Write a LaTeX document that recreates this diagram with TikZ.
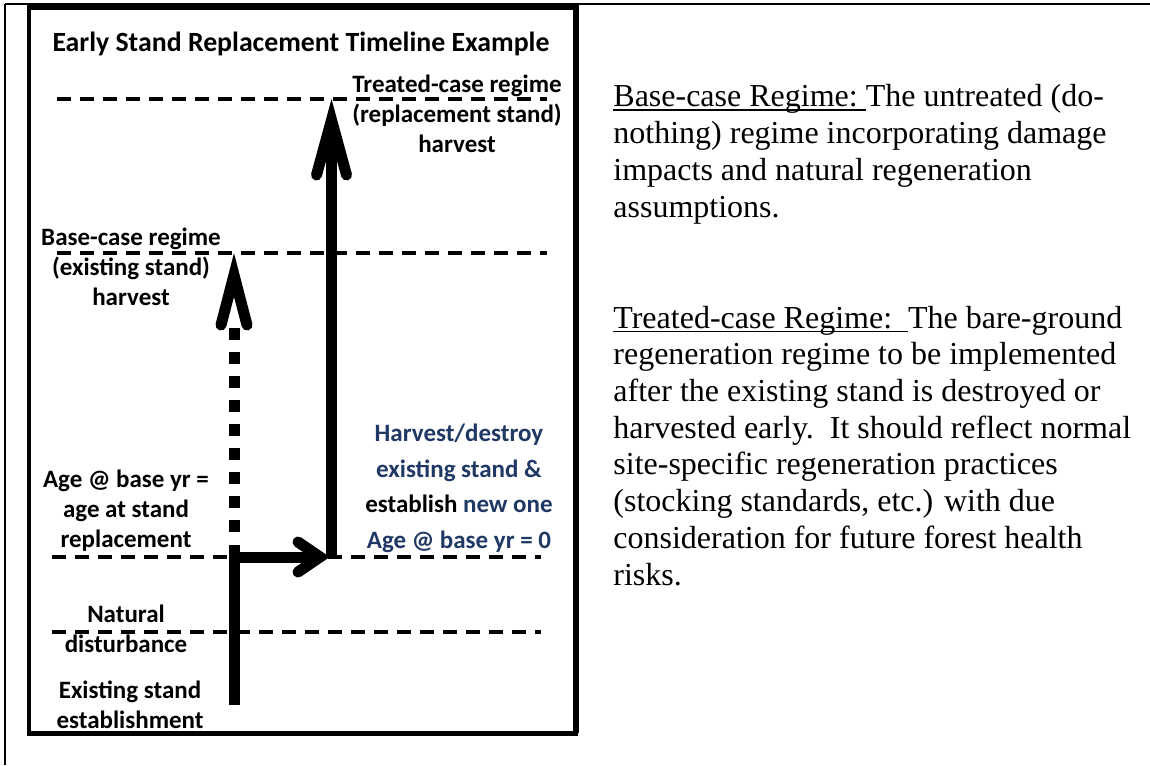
\documentclass[tikz,border=0pt]{standalone}
\usepackage{fontspec}
\setmainfont{Liberation Serif}
\newfontfamily\carlito{Carlito}
\usetikzlibrary{positioning}

\definecolor{navy}{HTML}{1F3864}

\newcommand\ulbox[1]{\setbox0\hbox{#1}\rlap{\rule[-2pt]{\wd0}{0.8pt}}\box0}

\tikzset{
  lbl/.style={font=\carlito\bfseries\fontsize{12.5}{15}\selectfont, align=center, inner sep=0pt, anchor=base},
  guide/.style={line width=2pt, dash pattern=on 7pt off 4.5pt},
  shaft/.style={line width=5.5pt},
  dots/.style={line width=5.5pt, dash pattern=on 6pt off 6pt},
  head/.style={line width=5.5pt, line cap=round, line join=miter},
  note/.style={font=\fontsize{16}{18.35}\selectfont, align=left, inner sep=0pt, anchor=base west},
  rule/.style={line width=1pt}
}

\begin{document}
\begin{tikzpicture}[x=0.5pt,y=-0.5pt]

    \useasboundingbox (0,0) rectangle (1150,765);

    \draw[rule] (5,4) -- (1150,4);
    \draw[rule] (5,4) -- (5,765);
    \draw[rule] (578,4) -- (578,733);
    \draw[line width=2.4pt] (29,7.5) rectangle (575.5,733.5);

    \draw[guide] (57,99) -- (547,99);
    \draw[guide] (57,253) -- (547,253);
    \draw[guide] (52,557) -- (541,557);
    \draw[guide] (52,632) -- (541,632);

    \coordinate (root) at (234,705);
    \coordinate (fork) at (234,545);
    \coordinate (bend) at (234,557);
    \coordinate (hv) at (320,557);
    \coordinate (hu) at (298,542);
    \coordinate (hl) at (298,572);
    \coordinate (newfoot) at (331.5,557);
    \coordinate (tv) at (331.5,120);
    \coordinate (tl) at (316.5,175);
    \coordinate (tr) at (346.5,175);
    \coordinate (dotlow) at (234,532);
    \coordinate (dotup) at (234,328);
    \coordinate (bv) at (234,275);
    \coordinate (bl) at (221,325);
    \coordinate (br) at (247,325);

    \draw[shaft] (root) -- (fork);
    \draw[shaft] (bend) -- (hv);
    \draw[head] (hu) -- (hv) -- (hl);
    \draw[shaft] (newfoot) -- (tv);
    \draw[head] (tl) -- (tv) -- (tr);
    \draw[dots] (dotlow) -- (dotup);
    \draw[head] (bl) -- (bv) -- (br);

    \node[lbl, font=\carlito\bfseries\fontsize{13.9}{16}\selectfont] (title) at (301,52) {Early Stand Replacement Timeline Example};
    \node[lbl] (treated) at (457,152) {Treated-case regime\\(replacement stand)\\harvest};
    \node[lbl] (basecase) at (131,305) {Base-case regime\\(existing stand)\\harvest};
    \node[lbl] (agebase) at (126,547) {Age @ base yr =\\age at stand\\replacement};
    \node[lbl] (natural) at (126,652) {Natural\\disturbance};
    \node[lbl] (existing) at (130,728) {Existing stand\\establishment};
    \node[lbl, navy, font=\carlito\bfseries\fontsize{12.5}{17.75}\selectfont] (replace) at (459,548) {Harvest/destroy\\existing stand \&\\{\color{black}establish} new one\\Age @ base yr = 0};

    \node[note] (basenote) at (613,217) {\ulbox{Base-case Regime:\ }The untreated (do-\\nothing) regime incorporating damage\\impacts and natural regeneration\\assumptions.};
    \node[note] (treatnote) at (613,585) {\ulbox{Treated-case Regime:\ \ }The bare-ground\\regeneration regime to be implemented\\after the existing stand is destroyed or\\harvested early.\ \ It should reflect normal\\site-specific regeneration practices\\(stocking standards, etc.) with due\\consideration for future forest health\\risks.};

\end{tikzpicture}
\end{document}
